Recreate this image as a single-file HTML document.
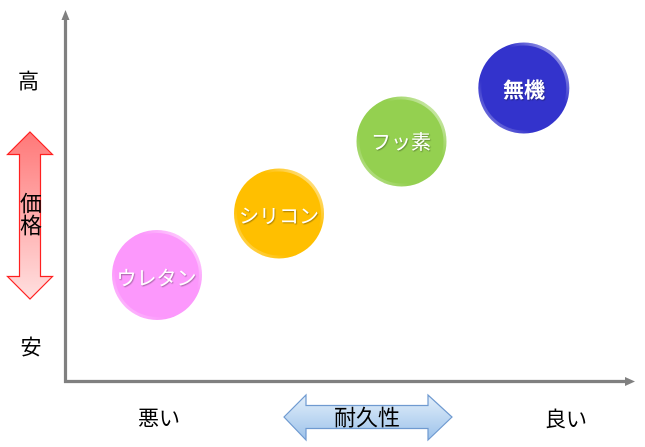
<!DOCTYPE html>
<html><head><meta charset="utf-8">
<style>
html,body{margin:0;padding:0;background:#fff;}
svg{display:block;}
text{font-family:"Liberation Sans","Noto Sans CJK JP",sans-serif;}
</style></head>
<body>
<svg width="645" height="447" viewBox="0 0 645 447" xmlns="http://www.w3.org/2000/svg">
<defs>
  <linearGradient id="red" x1="0" y1="0" x2="0" y2="1">
    <stop offset="0" stop-color="#ff7878"/>
    <stop offset="1" stop-color="#ffe0e0"/>
  </linearGradient>
  <linearGradient id="blue" x1="0" y1="0" x2="0" y2="1">
    <stop offset="0" stop-color="#e2eefa"/>
    <stop offset="1" stop-color="#9cc2ea"/>
  </linearGradient>
  <linearGradient id="rim" x1="1" y1="0" x2="0" y2="1">
    <stop offset="0" stop-color="#fff" stop-opacity="0.75"/>
    <stop offset="0.35" stop-color="#fff" stop-opacity="0"/>
    <stop offset="0.7" stop-color="#fff" stop-opacity="0"/>
    <stop offset="1" stop-color="#fff" stop-opacity="0.45"/>
  </linearGradient>
  <filter id="ts" x="-10%" y="-10%" width="120%" height="130%">
    <feDropShadow dx="0.8" dy="1" stdDeviation="0.6" flood-color="#000" flood-opacity="0.35"/>
  </filter>
</defs>

<!-- axes -->
<line x1="65.5" y1="18" x2="65.5" y2="383" stroke="#808080" stroke-width="3.2"/>
<polygon points="65.5,10 61.5,20 69.5,20" fill="#808080"/>
<line x1="64" y1="381.5" x2="627" y2="381.5" stroke="#808080" stroke-width="3.2"/>
<polygon points="635,381.5 625,377 625,386" fill="#808080"/>

<!-- y labels -->
<text x="28.5" y="82" font-size="21" text-anchor="middle" dominant-baseline="central" fill="#000">高</text>
<text x="31" y="348" font-size="21" text-anchor="middle" dominant-baseline="central" fill="#000">安</text>

<!-- price arrow -->
<polygon points="30,132 52.5,154.5 40.5,154.5 40.5,276.5 52.5,276.5 30,299 7.5,276.5 19.5,276.5 19.5,154.5 7.5,154.5" fill="url(#red)" stroke="#ff2020" stroke-width="1.2"/>
<text x="31" y="204" font-size="22" text-anchor="middle" dominant-baseline="central" fill="#000">価</text>
<text x="31" y="226" font-size="22" text-anchor="middle" dominant-baseline="central" fill="#000">格</text>

<!-- x labels -->
<text x="159" y="419" font-size="21" text-anchor="middle" dominant-baseline="central" fill="#000">悪い</text>
<text x="566" y="420" font-size="21" text-anchor="middle" dominant-baseline="central" fill="#000">良い</text>

<!-- durability arrow -->
<polygon points="284,417 306,395 306,405.5 428,405.5 428,395 452,417 428,440 428,428.5 306,428.5 306,440" fill="url(#blue)" stroke="#6f9ad0" stroke-width="1.2"/>
<text x="367" y="418" font-size="22" text-anchor="middle" dominant-baseline="central" fill="#000">耐久性</text>

<!-- circles -->
<circle cx="157" cy="275" r="45" fill="#fc98fc"/>
<circle cx="157" cy="275" r="43.5" fill="none" stroke="url(#rim)" stroke-width="3"/>
<text x="156.5" y="279" font-size="20" text-anchor="middle" dominant-baseline="central" fill="#fff" filter="url(#ts)">ウレタン</text>

<circle cx="279" cy="213.5" r="45" fill="#ffbf00"/>
<circle cx="279" cy="213.5" r="43.5" fill="none" stroke="url(#rim)" stroke-width="3"/>
<text x="279" y="217" font-size="20" text-anchor="middle" dominant-baseline="central" fill="#fff" filter="url(#ts)">シリコン</text>

<circle cx="401.5" cy="141.5" r="45" fill="#94d050"/>
<circle cx="401.5" cy="141.5" r="43.5" fill="none" stroke="url(#rim)" stroke-width="3"/>
<text x="401" y="143" font-size="20" text-anchor="middle" dominant-baseline="central" fill="#fff" filter="url(#ts)">フッ素</text>

<circle cx="523.8" cy="88" r="45.5" fill="#3333cc"/>
<circle cx="523.8" cy="88" r="44" fill="none" stroke="url(#rim)" stroke-width="3"/>
<text x="524" y="91" font-size="21" font-weight="bold" text-anchor="middle" dominant-baseline="central" fill="#fff" filter="url(#ts)">無機</text>
</svg>
</body></html>
